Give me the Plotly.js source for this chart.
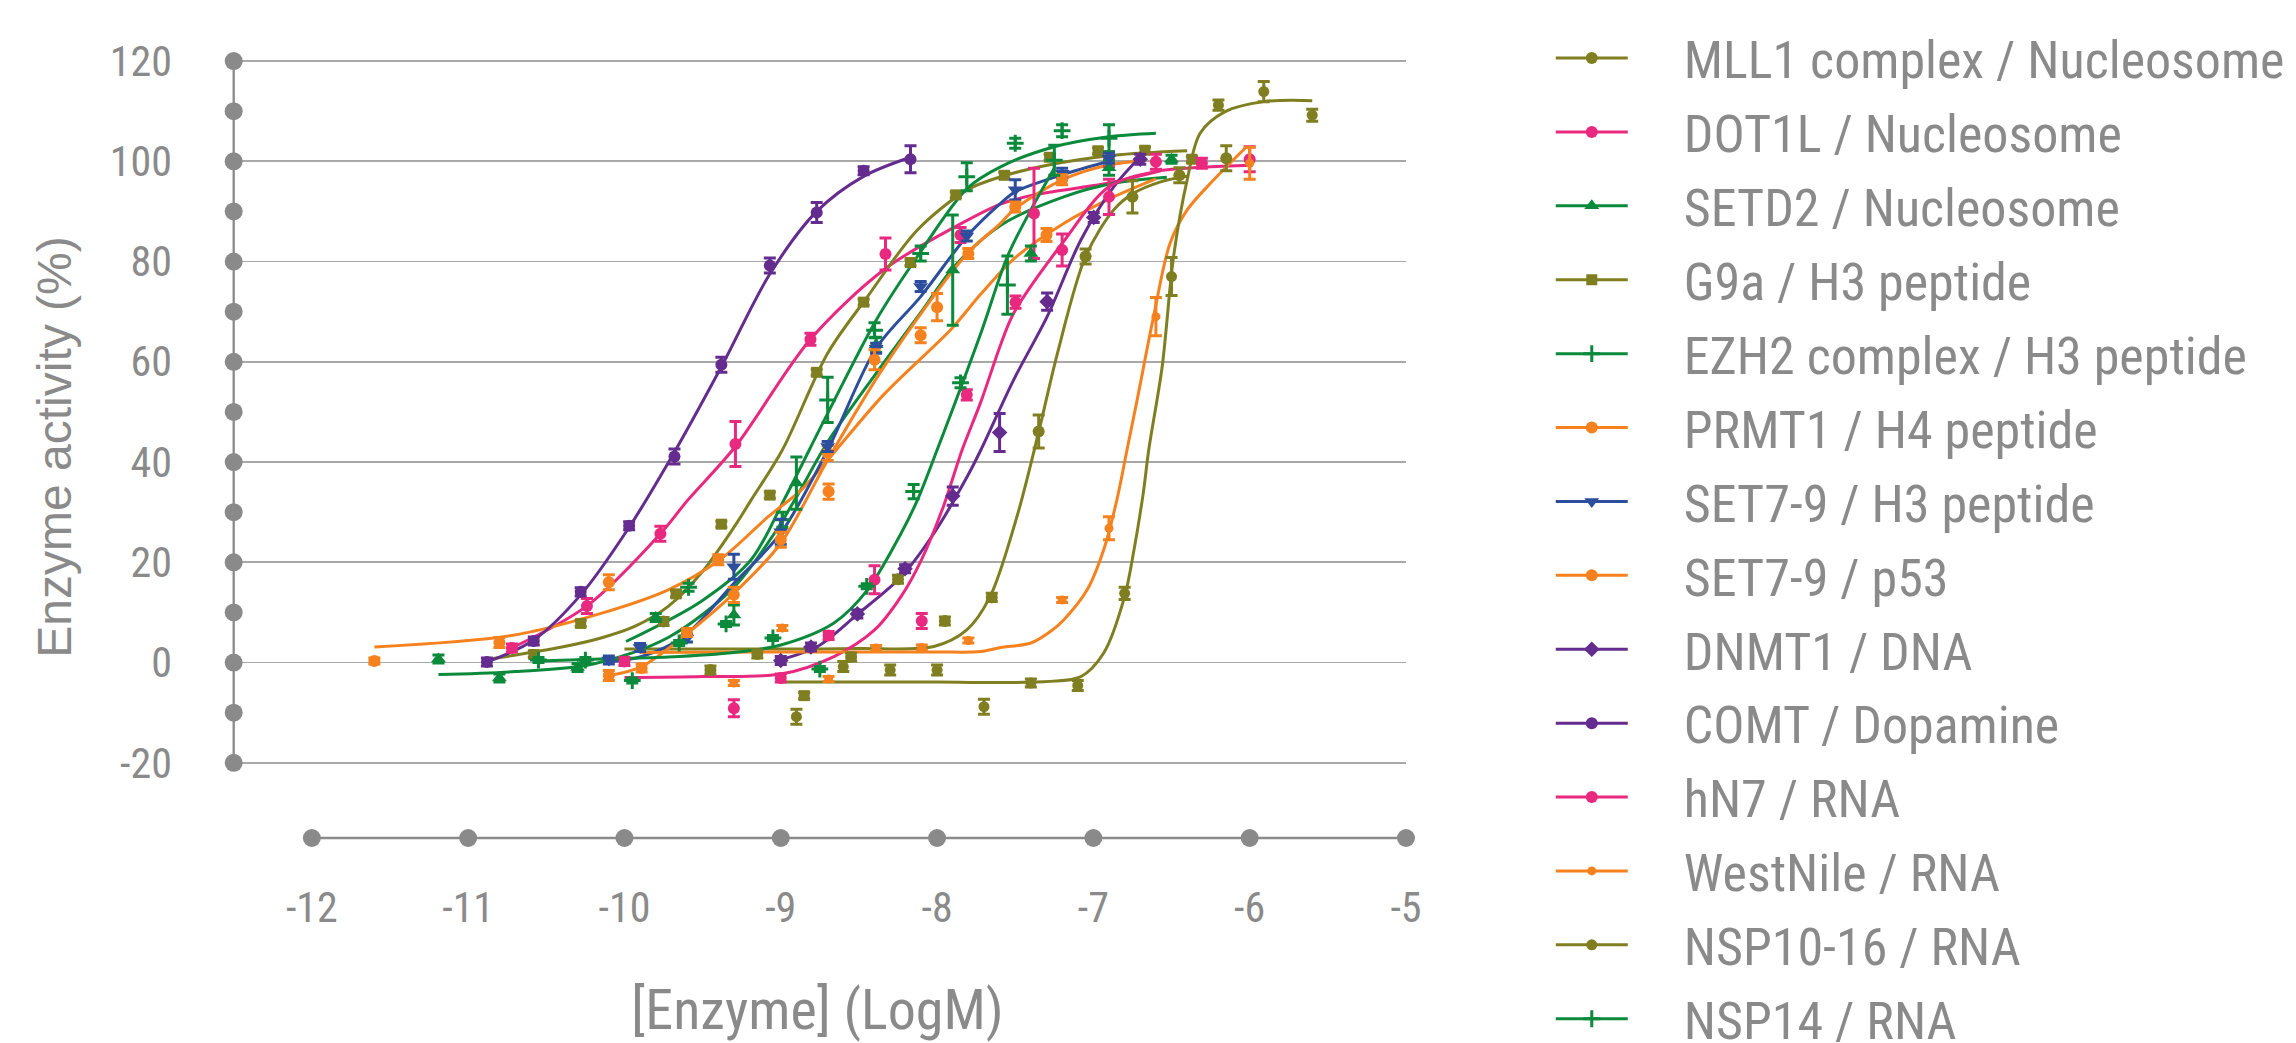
<!DOCTYPE html>
<html>
<head>
<meta charset="utf-8">
<script src="https://cdn.plot.ly/plotly-3.0.1.min.js"></script>
<style>
html,body{margin:0;padding:0;background:#fff;}
#chart{width:2296px;height:1043px;}
</style>
</head>
<body>
<div id="chart"></div>
<script>
// ---------- axis ticks ----------
const xTickVals = [-12, -11, -10, -9, -8, -7, -6, -5];
const yTickVals = [-20, 0, 20, 40, 60, 80, 100, 120];
const yDotVals = [-20, -10, 0, 10, 20, 30, 40, 50, 60, 70, 80, 90, 100, 110, 120];
const xRange = [-12.53, -5];
const yRange = [-36, 122];
const yAxisAt = -12.5;
const xAxisAt = -35;

// ---------- series names ----------
const seriesNames = [
  "MLL1 complex / Nucleosome", "DOT1L / Nucleosome", "SETD2 / Nucleosome",
  "G9a / H3 peptide", "EZH2 complex / H3 peptide", "PRMT1 / H4 peptide",
  "SET7-9 / H3 peptide", "SET7-9 / p53", "DNMT1 / DNA", "COMT / Dopamine",
  "hN7 / RNA", "WestNile / RNA", "NSP10-16 / RNA", "NSP14 / RNA"
];

// ---------- MLL1 complex / Nucleosome ----------
const mll1X = [-9.75,-9.45,-9.15,-8.55,-8.25,-7.95,-7.65,-7.35,-7.05,-6.75,-6.45,-6.15];
const mll1Y = [8.2,-1.5,1.7,1.1,16.6,8.3,13.0,46.1,81.0,92.9,97.2,100.6];
const mll1E = [0.8,0.8,0.8,0.8,0.8,0.8,0.8,3.3,1.5,3.2,1.5,2.5];
const mll1FitX = [-10.0,-9.5,-9.0,-8.5,-8.02,-7.81,-7.66,-7.49,-7.35,-7.23,-7.05,-6.87,-6.75,-6.57,-6.4];
const mll1FitY = [2.7,2.7,2.7,2.8,3.2,6.5,13.2,29,46,61.7,81,90.3,93.5,95.9,97];

// ---------- DOT1L / Nucleosome ----------
const dot1lX = [-10.72,-10.24,-9.77,-9.29,-8.81,-8.33,-7.85,-7.38,-6.90];
const dot1lY = [2.9,11.3,25.7,43.6,64.5,81.5,85.3,89.6,100.4];
const dot1lE = [0.8,1.5,1.5,4.5,1.2,3.2,1.5,9,1.5];
const dot1lFitX = [-10.72,-10.24,-9.77,-9.595,-9.29,-8.81,-8.33,-7.85,-7.59,-7.38,-6.91,-6.57];
const dot1lFitY = [2.9,11.3,25.7,32.4,43.1,64.5,78.6,87.5,91.5,93.3,95.6,98.1];

// ---------- SETD2 / Nucleosome ----------
const setd2X = [-11.19,-10.8,-10.3,-9.8,-9.3,-8.9,-8.39,-7.9,-7.4,-6.9,-6.5];
const setd2Y = [0.7,-3.1,-1.0,9.0,9.5,35.8,63.4,78.3,81.6,98.7,100.4];
const setd2E = [0.8,0.8,0.8,0.8,2,5.2,1.5,11,1.5,1.5,0.8];
const setd2FitX = [-11.19,-10.7,-10.2,-9.72,-9.3,-9.04,-8.9,-8.7,-8.39,-8.1,-7.89,-7.59,-7.19,-6.87,-6.53];
const setd2FitY = [-2.4,-1.8,-0.3,5,15,25.8,33,44,57.7,70,79,87.3,92.9,95.6,96.8];

// ---------- G9a / H3 peptide ----------
const g9aX = [-10.58,-10.28,-9.67,-9.38,-9.07,-8.85,-8.77,-8.47,-8.17,-7.88,-7.57,-7.28,-6.97,-6.67,-6.37];
const g9aY = [1.6,7.8,13.7,27.6,33.4,-6.6,57.9,71.9,79.8,93.3,97.2,100.8,102.1,102.2,100.4];
const g9aE = [0.6,0.6,0.6,0.6,0.6,0.6,0.6,0.6,0.6,0.6,0.6,0.6,0.6,0.6,0.6];
const g9aFitX = [-10.88,-10.4,-10.15,-9.935,-9.72,-9.51,-9.297,-9.19,-8.99,-8.7,-8.445,-8.126,-7.807,-7.594,-7.296,-6.87,-6.4];
const g9aFitY = [0.6,3.1,4.9,7.2,11.2,17.8,27.1,32.4,42.4,61.7,73.0,86.3,94.3,96.9,99.2,101.2,102.1];

// ---------- EZH2 complex / H3 peptide ----------
const ezh2X = [-9.59,-8.99,-8.70,-8.40,-8.105,-7.81,-7.50,-7.20,-6.90];
const ezh2Y = [15.0,28.5,52.4,66.3,81.6,96.9,103.6,106.1,104.6];
const ezh2E = [0.8,1.5,4.5,1.5,1.5,2.8,1,1.2,2.7];
const ezh2FitX = [-9.99,-9.51,-9.19,-8.98,-8.70,-8.39,-8.126,-7.807,-7.594,-7.25,-6.9,-6.6];
const ezh2FitY = [4.2,12.2,20.5,32.4,49.7,68.3,81,94.6,98.9,102.9,104.9,105.6];

// ---------- PRMT1 / H4 peptide ----------
const prmt1X = [-11.60,-10.80,-10.10,-9.40,-8.70,-8.00,-7.30];
const prmt1Y = [0.3,4.0,16.0,20.5,41.8,70.9,85.3];
const prmt1E = [0.6,1,1.5,1,1.5,2.7,1.3];
const prmt1FitX = [-11.6,-10.72,-10.15,-9.72,-9.39,-9.08,-8.87,-8.70,-8.34,-7.91,-7.72,-7.51,-7.19,-6.87,-6.6];
const prmt1FitY = [3.1,5.4,9.8,14.5,20.5,29.1,34.4,40.4,53.5,66.5,73.5,80.5,87.6,92.9,96.5];

// ---------- SET7-9 / H3 peptide ----------
const set79hX = [-10.10,-9.90,-9.60,-9.30,-9.0,-8.70,-8.39,-8.105,-7.81,-7.50,-7.20,-6.90];
const set79hY = [0.5,3.0,4.9,19.1,26.1,43.1,62.7,75.0,85.1,94.3,97.6,100.6];
const set79hE = [0.8,0.8,0.8,2.5,2.5,1,1,1,1,2,1,1];
const set79hFitX = [-10.08,-9.89,-9.62,-9.30,-9.0,-8.70,-8.39,-8.105,-7.81,-7.594,-7.50,-7.2,-6.9];
const set79hFitY = [0.2,1.2,5.2,15.8,25.8,42.4,62.7,73,85,91.6,93.9,97.3,100];

// ---------- SET7-9 / p53 ----------
const set79pX = [-10.1,-9.89,-9.60,-9.30,-9.0,-8.694,-8.40,-8.105,-7.80,-7.50,-7.20];
const set79pY = [-2.6,-1.1,6.0,13.5,24.5,34.1,60.4,65.3,81.6,90.9,96.3];
const set79pE = [1,0.8,0.8,1.5,1.5,1.5,2,1.5,1,1,1];
const set79pFitX = [-10.1,-9.89,-9.595,-9.3,-9.0,-8.70,-8.34,-7.807,-7.594,-7.51,-7.2,-6.91,-6.66];
const set79pFitY = [-2.6,-0.8,5.9,13.8,23.8,40.4,59,81.6,87.6,90.3,96.3,99.2,100.2];

// ---------- DNMT1 / DNA ----------
const dnmt1X = [-9.0,-8.807,-8.51,-8.205,-7.90,-7.60,-7.296,-6.998,-6.70];
const dnmt1Y = [0.4,3.1,9.7,18.7,33.2,45.9,72,88.8,100.4];
const dnmt1E = [0.8,0.8,0.8,0.8,1.8,3.8,1.7,1,1];
const dnmt1FitX = [-9.0,-8.764,-8.51,-8.23,-8.02,-7.807,-7.72,-7.51,-7.296,-7.08,-6.87,-6.70];
const dnmt1FitY = [0.6,3.2,9.6,17.1,25.8,37.1,42.4,56.4,69,84.3,94.9,100.9];

// ---------- COMT / Dopamine ----------
const comtX = [-10.88,-10.58,-10.28,-9.97,-9.68,-9.38,-9.07,-8.77,-8.47,-8.17];
const comtY = [0.1,4.3,14.1,27.3,41.1,59.4,79.2,89.8,98.1,100.4];
const comtE = [0.8,0.8,0.8,0.8,1.5,1.5,1.5,2,0.8,2.7];
const comtFitX = [-10.88,-10.58,-10.28,-9.97,-9.68,-9.38,-9.07,-8.77,-8.47,-8.17];
const comtFitY = [0.1,4.5,13.5,27,42,59,77.5,90,97,100.8];

// ---------- hN7 / RNA ----------
const hn7X = [-10.0,-9.30,-9.0,-8.694,-8.40,-8.098,-7.81,-7.498,-7.20,-6.90,-6.60,-6.306,-6.0];
const hn7Y = [0.2,-9.1,-3.1,5.4,16.5,8.3,53.4,71.9,82.3,92.9,99.9,99.6,100.4];
const hn7E = [0.8,1.7,0.8,0.8,2.8,1.5,1,1.2,3.2,3.5,1.5,1,2.5];
const hn7FitX = [-10.0,-9.5,-9.0,-8.66,-8.4,-8.23,-8.1,-7.96,-7.84,-7.72,-7.59,-7.51,-7.2,-6.9,-6.61,-6.3,-5.98];
const hn7FitY = [-3.0,-2.8,-2.3,1.2,6.5,13.2,20.5,31.1,42.4,52,63.7,69.7,83.6,94.9,97.9,98.8,99.2];

// ---------- WestNile / RNA ----------
const wnX = [-9.30,-8.99,-8.694,-8.39,-8.098,-7.80,-7.20,-6.90,-6.60,-6.0];
const wnY = [-4.1,6.9,-3.3,2.9,3.0,4.4,12.5,26.8,69,99.6];
const wnE = [0.5,0.5,0.5,0.5,0.5,0.5,0.5,2.3,3.8,3.2];
const wnFitX = [-9.9,-9.0,-8.0,-7.72,-7.594,-7.40,-7.275,-7.19,-7.04,-6.934,-6.85,-6.785,-6.72,-6.615,-6.51,-6.40,-6.23,-6.02];
const wnFitY = [2.0,2.1,2.1,2.2,3.0,3.9,6.2,8.5,14.5,22.5,32.4,42.4,52.4,69,83.6,90.3,96.3,102.9];

// ---------- NSP10-16 / RNA ----------
const nsp1016X = [-8.90,-8.60,-8.30,-8.0,-7.70,-7.40,-7.10,-6.80,-6.50,-6.20,-5.91,-5.60];
const nsp1016Y = [-10.8,-0.8,-1.5,-1.5,-8.8,-4.1,-4.6,13.8,77.0,111.2,113.9,109.2];
const nsp1016E = [1.5,1,1,1,1.5,0.8,1,1.2,3.8,1,2,1.2];
const nsp1016FitX = [-9.0,-8.0,-7.4,-7.08,-6.934,-6.80,-6.74,-6.68,-6.646,-6.56,-6.487,-6.40,-6.317,-6.157,-5.91,-5.6];
const nsp1016FitY = [-3.9,-3.9,-3.9,-2.8,1.9,13.2,22.5,34,42.4,59,81,96.3,105.6,109.9,111.9,112.1];

// ---------- NSP14 / RNA ----------
const nsp14X = [-10.55,-10.25,-9.95,-9.65,-9.35,-9.05,-8.75,-8.45,-8.15,-7.85,-7.55,-7.25];
const nsp14Y = [0.5,0.5,-3.6,3.9,7.7,4.9,-1.3,15.2,34.1,55.8,75.3,100.2];
const nsp14E = [0.5,0.5,0.5,0.5,0.5,0.5,0.5,0.5,1.4,1,5.8,3];
const nsp14FitX = [-10.55,-10.15,-9.72,-9.30,-9.0,-8.66,-8.445,-8.23,-8.126,-8.0,-7.72,-7.55,-7.40,-7.25];
const nsp14FitY = [0.3,0.7,1.1,2.0,3.5,7.9,14.5,25.8,32.4,42.4,65.7,81,90.3,98.6];

// ---------- styling ----------
const OLIVE = '#7f7f21', PINK = '#e8297f', GREEN = '#0c8a3c', ORANGE = '#f5821f', BLUE = '#2c4e9c', PURPLE = '#652c8f';
const GREY = '#8a8a8a';

// find a condensed face for the labels, if one is installed
function pickNarrow() {
  const ctx = document.createElement('canvas').getContext('2d');
  const sample = '-12 120 [Enzyme] (LogM) 0123456789';
  function w(fam, st, fb) {
    ctx.font = '40px ' + fam + ', ' + fb;
    try { ctx.fontStretch = st; } catch (e) {}
    const v = ctx.measureText(sample).width;
    try { ctx.fontStretch = 'normal'; } catch (e) {}
    return v;
  }
  const mono = w('monospace', 'normal', 'monospace');
  const cands = [
    {fam: '"Roboto Condensed"', st: 'normal', base: 'Roboto'},
    {fam: '"Liberation Sans Narrow"', st: 'normal', base: '"Liberation Sans"'},
    {fam: '"DejaVu Sans Condensed"', st: 'normal', base: '"DejaVu Sans"'},
    {fam: '"DejaVu Sans"', st: 'condensed', base: '"DejaVu Sans"'},
    {fam: 'Roboto', st: 'condensed', base: 'Roboto'},
    {fam: '"Noto Sans"', st: 'condensed', base: '"Noto Sans"'},
    {fam: '"Open Sans"', st: 'condensed', base: '"Open Sans"'}
  ];
  for (const c of cands) {
    const a = w(c.fam, c.st, 'monospace'), b = w(c.fam, c.st, 'serif'), base = w(c.base, 'normal', 'monospace');
    if (Math.abs(a - mono) > 0.5 && Math.abs(a - b) < 0.5 && a < 0.93 * base) return c;
  }
  return {fam: 'Roboto', st: 'normal'};
}
const narrowPick = pickNarrow();
const NARROW = narrowPick.fam + ', Roboto, sans-serif';
if (narrowPick.st !== 'normal') {
  const st = document.createElement('style');
  st.textContent = '.xtick text, .ytick text, .xtitle, .legendtext { font-stretch: ' + narrowPick.st + '; }';
  document.head.appendChild(st);
}
const REGULAR = '"Liberation Sans", Arial, sans-serif';

const series = [
  {x: mll1X, y: mll1Y, e: mll1E, fx: mll1FitX, fy: mll1FitY, c: OLIVE, sym: 'circle', sz: 12},
  {x: dot1lX, y: dot1lY, e: dot1lE, fx: dot1lFitX, fy: dot1lFitY, c: PINK, sym: 'circle', sz: 12},
  {x: setd2X, y: setd2Y, e: setd2E, fx: setd2FitX, fy: setd2FitY, c: GREEN, sym: 'triangle-up', sz: 13},
  {x: g9aX, y: g9aY, e: g9aE, fx: g9aFitX, fy: g9aFitY, c: OLIVE, sym: 'square', sz: 11},
  {x: ezh2X, y: ezh2Y, e: ezh2E, fx: ezh2FitX, fy: ezh2FitY, c: GREEN, sym: 'cross-thin', sz: 12},
  {x: prmt1X, y: prmt1Y, e: prmt1E, fx: prmt1FitX, fy: prmt1FitY, c: ORANGE, sym: 'circle', sz: 12},
  {x: set79hX, y: set79hY, e: set79hE, fx: set79hFitX, fy: set79hFitY, c: BLUE, sym: 'triangle-down', sz: 13},
  {x: set79pX, y: set79pY, e: set79pE, fx: set79pFitX, fy: set79pFitY, c: ORANGE, sym: 'circle', sz: 12},
  {x: dnmt1X, y: dnmt1Y, e: dnmt1E, fx: dnmt1FitX, fy: dnmt1FitY, c: PURPLE, sym: 'diamond', sz: 12},
  {x: comtX, y: comtY, e: comtE, fx: comtFitX, fy: comtFitY, c: PURPLE, sym: 'circle', sz: 12},
  {x: hn7X, y: hn7Y, e: hn7E, fx: hn7FitX, fy: hn7FitY, c: PINK, sym: 'circle', sz: 12},
  {x: wnX, y: wnY, e: wnE, fx: wnFitX, fy: wnFitY, c: ORANGE, sym: 'circle', sz: 9},
  {x: nsp1016X, y: nsp1016Y, e: nsp1016E, fx: nsp1016FitX, fy: nsp1016FitY, c: OLIVE, sym: 'circle', sz: 11},
  {x: nsp14X, y: nsp14Y, e: nsp14E, fx: nsp14FitX, fy: nsp14FitY, c: GREEN, sym: 'cross-thin', sz: 12}
];

// insert gaps so the point trace has a legend line but no connecting segments
function gapped(arr) {
  const out = [];
  arr.forEach((v, i) => { if (i) out.push(null); out.push(v); });
  return out;
}

const traces = [];

// axis decorations (dots on the axes)
traces.push({
  x: yDotVals.map(() => yAxisAt), y: yDotVals, type: 'scatter', mode: 'lines+markers',
  line: {color: GREY, width: 2.3}, marker: {color: GREY, size: 18}, cliponaxis: false,
  showlegend: false, hoverinfo: 'skip'
});
traces.push({
  x: xTickVals, y: xTickVals.map(() => xAxisAt), type: 'scatter', mode: 'lines+markers',
  line: {color: GREY, width: 2.3}, marker: {color: GREY, size: 18}, cliponaxis: false,
  showlegend: false, hoverinfo: 'skip'
});

// fitted curves
series.forEach((s, i) => {
  traces.push({
    x: s.fx, y: s.fy, type: 'scatter', mode: 'lines', name: seriesNames[i],
    line: {color: s.c, width: 3, shape: 'spline', smoothing: 0.9},
    showlegend: false, hoverinfo: 'skip', legendgroup: 'g' + i
  });
});

// measured points with error bars
series.forEach((s, i) => {
  const isCross = s.sym === 'cross-thin';
  traces.push({
    x: gapped(s.x), y: gapped(s.y), type: 'scatter', mode: 'lines+markers', name: seriesNames[i],
    connectgaps: false, legendgroup: 'g' + i,
    line: {color: s.c, width: 3},
    marker: {color: s.c, symbol: s.sym, size: s.sz, line: {color: s.c, width: isCross ? 3 : 0}},
    error_y: {type: 'data', array: gapped(s.e), visible: true, color: s.c, thickness: 3, width: 6},
    cliponaxis: false, hoverinfo: 'skip'
  });
});

const LEG_LINE = 72;     // legend sample line length
const LEG_TEXT_AT = 123; // room before the legend text

const layout = {
  width: 2296, height: 1043,
  paper_bgcolor: '#ffffff', plot_bgcolor: '#ffffff',
  margin: {l: 229, r: 890, t: 51, b: 200, autoexpand: false},
  hovermode: false,
  showlegend: true,
  xaxis: {
    range: xRange, tickvals: xTickVals, ticktext: xTickVals.map(String),
    showgrid: false, zeroline: false, showline: false, ticks: '',
    tickfont: {family: NARROW, size: 42, color: GREY},
    ticklabelstandoff: 36,
    title: {text: '[Enzyme] (LogM)', font: {family: NARROW, size: 56, color: GREY}, standoff: 62}
  },
  yaxis: {
    range: yRange, tickvals: yTickVals, ticktext: yTickVals.map(String),
    showgrid: true, gridcolor: '#a8a8a8', gridwidth: 1.6, zeroline: false, showline: false, ticks: '',
    tickfont: {family: NARROW, size: 42, color: GREY},
    ticklabelstandoff: 56,
    title: {text: 'Enzyme activity (%)', font: {family: REGULAR, size: 48, color: GREY}, standoff: 22}
  },
  legend: {
    x: 1.123, xanchor: 'left', y: 1.042, yanchor: 'top',
    font: {family: NARROW, size: 52, color: GREY},
    bgcolor: 'rgba(0,0,0,0)', itemwidth: LEG_TEXT_AT, itemsizing: 'trace', tracegroupgap: 3.3,
    maxheight: 1200
  }
};

Plotly.newPlot('chart', traces, layout, {displayModeBar: false, staticPlot: true}).then(gd => {
  // shorten the legend sample lines and centre the symbols on them
  const centre = (LEG_LINE + 10) / 2;
  gd.querySelectorAll('.legend .traces').forEach(tr => {
    tr.querySelectorAll('.legendlines path').forEach(p => p.setAttribute('d', 'M5,0h' + LEG_LINE));
    tr.querySelectorAll('g.legendpoints').forEach(g => {
      g.removeAttribute('transform');
      g.querySelectorAll('path').forEach(p => p.setAttribute('transform', 'translate(' + centre + ',0)'));
    });
  });
});
</script>
</body>
</html>
